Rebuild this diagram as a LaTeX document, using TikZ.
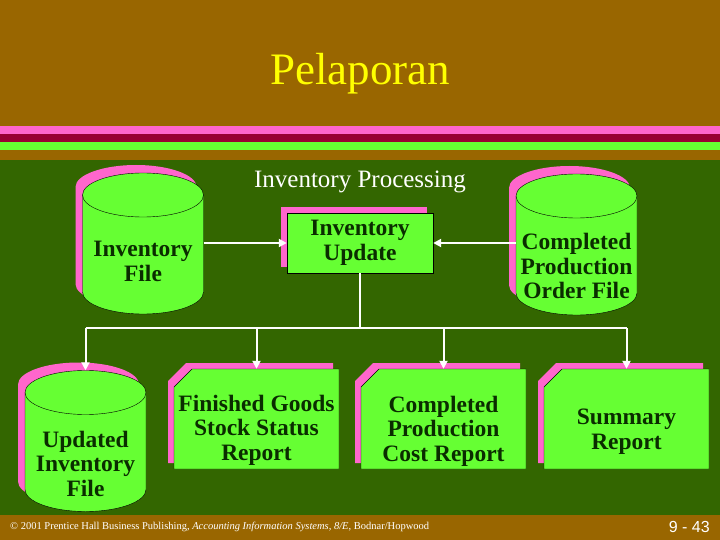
\documentclass[tikz,border=0pt]{standalone}
\usepackage{fontspec}
\setmainfont{Liberation Serif}
\newfontfamily\pagefont{Liberation Sans}
\usetikzlibrary{arrows.meta,shadows}
\definecolor{slidebrown}{HTML}{996600}
\definecolor{slidepink}{HTML}{FF66CC}
\definecolor{slidered}{HTML}{990033}
\definecolor{slidegreen}{HTML}{336600}
\definecolor{boxgreen}{HTML}{66FF33}
\definecolor{inkgreen}{HTML}{0A2D00}
\definecolor{titleyellow}{HTML}{FFFF00}
\begin{document}
\begin{tikzpicture}[x=1pt,y=-1pt,
    boxtext/.style={text=inkgreen, font=\bfseries\fontsize{23.5}{24.5}\selectfont, align=center, inner sep=0},
    drumbox/.style={minimum width=121, minimum height=141, inner sep=0},
    reportbox/.style={minimum width=165, minimum height=100, inner sep=0},
    updatebox/.style={draw=black, fill=boxgreen, minimum width=146, minimum height=60,
      drop shadow={shadow xshift=-6pt, shadow yshift=6pt, fill=slidepink, opacity=1}},
    link/.style={white, line width=2pt},
    flow/.style={link, -{Triangle[length=8pt,width=8pt]}}]
  \useasboundingbox (0,0) rectangle (720,540);
  % background bands
  \fill[slidebrown] (0,0) rectangle (720,126);
  \fill[slidepink] (0,126) rectangle (720,134);
  \fill[slidered] (0,134) rectangle (720,142);
  \fill[boxgreen] (0,142) rectangle (720,150);
  \fill[slidebrown] (0,150) rectangle (720,160);
  \fill[slidegreen] (0,160) rectangle (720,515);
  \fill[slidebrown] (0,515) rectangle (720,540);
  \node[anchor=base, text=titleyellow, font=\fontsize{45}{50}\selectfont] (title) at (360,85) {Pelaporan};
  \node[anchor=base, text=white, font=\fontsize{25}{28}\selectfont] (heading) at (360,188) {Inventory Processing};
  % files
  \foreach \nm/\cx/\cy in {invfile/143/243.5, cpofile/576.5/244.5, updfile/85.5/441} {
    \fill[slidepink] (\cx-67.5,\cy-56.5) -- (\cx-67.5,\cy+40.5)
      arc[start angle=180, end angle=360, x radius=60.5pt, y radius=22pt]
      -- (\cx+53.5,\cy-56.5) arc[start angle=0, end angle=180, x radius=60.5pt, y radius=22pt] -- cycle;
    \filldraw[fill=boxgreen, draw=black] (\cx-60.5,\cy-48.5) -- (\cx-60.5,\cy+48.5)
      arc[start angle=180, end angle=360, x radius=60.5pt, y radius=22pt]
      -- (\cx+60.5,\cy-48.5) arc[start angle=0, end angle=180, x radius=60.5pt, y radius=22pt] -- cycle;
    \draw (\cx-60.5,\cy-48.5) arc[start angle=180, end angle=360, x radius=60.5pt, y radius=22pt];
    \node[drumbox] (\nm) at (\cx,\cy) {};
  }
  % reports
  \foreach \nm/\lx in {fgs/174, cpc/361, sum/544} {
    \fill[slidepink] (\lx-6,381) -- (\lx+12,363) -- (\lx+159,363) -- (\lx+159,463) -- (\lx-6,463) -- cycle;
    \filldraw[fill=boxgreen, draw=black] (\lx,387) -- (\lx+18,369) -- (\lx+165,369) -- (\lx+165,469) -- (\lx,469) -- cycle;
    \node[reportbox] (\nm) at (\lx+82.5,419) {};
  }
  \node[updatebox, boxtext] (invupd) at (360,243) {Inventory\\Update};
  \node[boxtext] (invfiletext) at (143,261.5) {Inventory\\File};
  \node[boxtext] (cpofiletext) at (576.5,266) {Completed\\Production\\Order File};
  \node[boxtext] (updfiletext) at (85.5,463.5) {Updated\\Inventory\\File};
  \node[boxtext] (fgstext) at (256.5,430) {Finished Goods\\Stock Status\\Report};
  \node[boxtext] (cpctext) at (443.5,431) {Completed\\Production\\Cost Report};
  \node[boxtext] (sumtext) at (626.5,431.5) {Summary\\Report};
  % connectors
  \draw[flow] (invfile.east |- invupd.west) -- (invupd.west);
  \draw[flow] (cpofile.west |- invupd.east) -- (invupd.east);
  \coordinate (bus) at (360,328);
  \draw[link] (invupd.south) -- (bus);
  \draw[link] (updfile.north |- bus) -- (sum.north |- bus);
  \foreach \nm in {updfile,fgs,cpc,sum}
    \draw[flow] (\nm.north |- bus) -- (\nm.north);
  % footer
  \node[anchor=base west, text=white, font=\fontsize{10.5}{12}\selectfont, inner sep=0] (credit) at (10,529)
    {© 2001 Prentice Hall Business Publishing, \textit{Accounting Information Systems, 8/E}, Bodnar/Hopwood};
  \node[anchor=base east, text=white, font=\pagefont\fontsize{16}{18}\selectfont, inner sep=0] (pageno) at (710,532) {9 - 43};
\end{tikzpicture}
\end{document}
